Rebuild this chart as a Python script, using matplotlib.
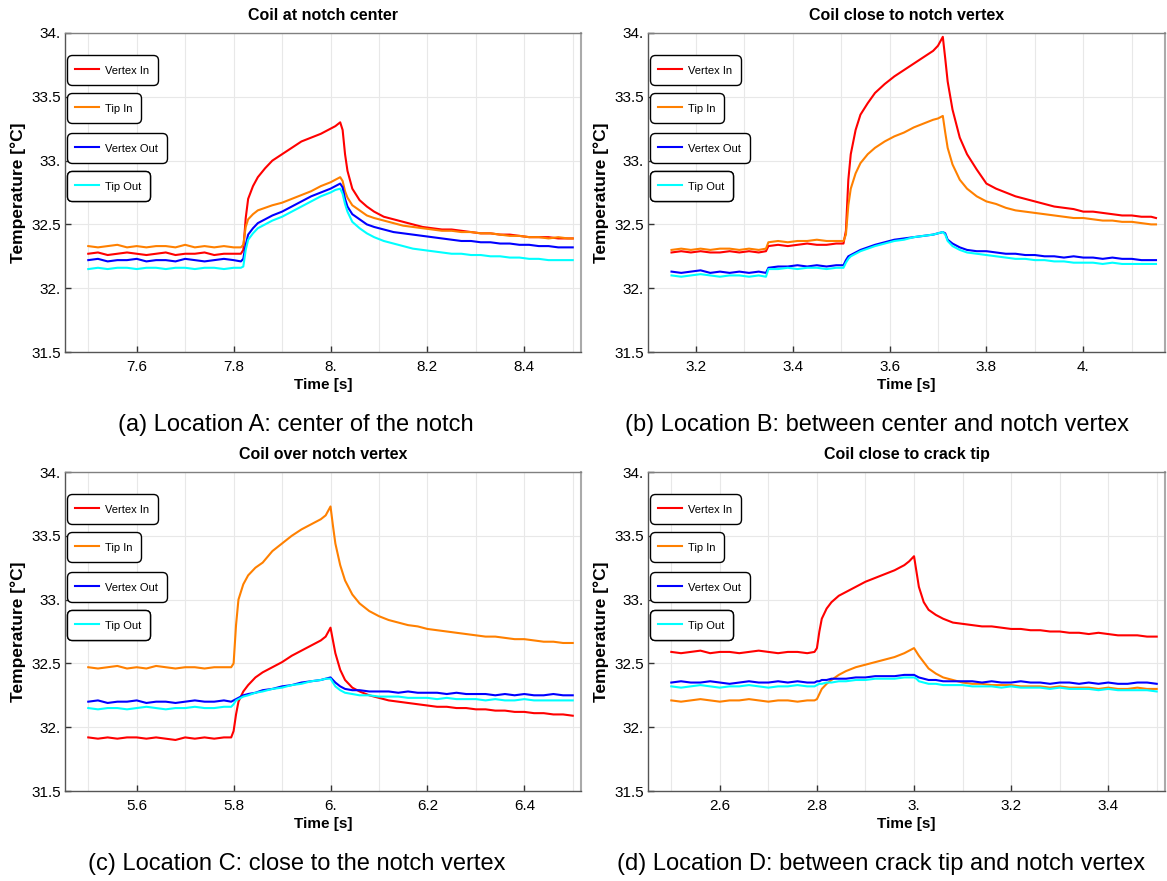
import matplotlib
matplotlib.use("Agg")
import matplotlib.pyplot as plt
from matplotlib.ticker import MultipleLocator, FuncFormatter

plt.rcParams['font.family'] = ['Liberation Sans', 'DejaVu Sans']

labels = ['Vertex In', 'Tip In', 'Vertex Out', 'Tip Out']
colors = ['#ff0000', '#ff8000', '#0000ff', '#00ffff']

titles = ['Coil at notch center', 'Coil close to notch vertex',
          'Coil over notch vertex', 'Coil close to crack tip']
captions = ['(a) Location A: center of the notch',
            '(b) Location B: between center and notch vertex',
            '(c) Location C: close to the notch vertex',
            '(d) Location D: between crack tip and notch vertex']

# ---- location A ----
t_a = [7.50, 7.52, 7.54, 7.56, 7.58, 7.60, 7.62, 7.64, 7.66, 7.68,
       7.70, 7.72, 7.74, 7.76, 7.78, 7.80,
       7.815, 7.82, 7.825, 7.83, 7.84, 7.85, 7.865, 7.88,
       7.90, 7.92, 7.94, 7.96, 7.98, 8.00,
       8.01, 8.02, 8.025, 8.03, 8.035, 8.045, 8.06, 8.075, 8.09,
       8.11, 8.13, 8.15, 8.17, 8.19, 8.21, 8.23, 8.25, 8.27, 8.29,
       8.31, 8.33, 8.35, 8.37, 8.39, 8.41, 8.43, 8.45, 8.47, 8.49,
       8.50]
a_vertex_in = [32.27, 32.28, 32.26, 32.27, 32.28, 32.27, 32.26, 32.27, 32.28, 32.26,
               32.27, 32.27, 32.28, 32.26, 32.27, 32.27,
               32.27, 32.30, 32.55, 32.70, 32.80, 32.87, 32.94, 33.00,
               33.05, 33.10, 33.15, 33.18, 33.21, 33.25,
               33.27, 33.30, 33.24, 33.05, 32.92, 32.78, 32.69, 32.64, 32.60,
               32.56, 32.54, 32.52, 32.50, 32.48, 32.47, 32.46, 32.46, 32.45, 32.44,
               32.43, 32.43, 32.42, 32.42, 32.41, 32.40, 32.40, 32.40, 32.39, 32.39,
               32.39]
a_tip_in = [32.33, 32.32, 32.33, 32.34, 32.32, 32.33, 32.32, 32.33, 32.33, 32.32,
            32.34, 32.32, 32.33, 32.32, 32.33, 32.32,
            32.32, 32.34, 32.48, 32.54, 32.58, 32.61, 32.63, 32.65,
            32.67, 32.70, 32.73, 32.76, 32.80, 32.83,
            32.85, 32.87, 32.84, 32.76, 32.71, 32.65, 32.61, 32.57, 32.55,
            32.53, 32.51, 32.49, 32.48, 32.47, 32.46, 32.45, 32.45, 32.44, 32.44,
            32.43, 32.43, 32.42, 32.41, 32.41, 32.40, 32.40, 32.39, 32.40, 32.39,
            32.39]
a_vertex_out = [32.22, 32.23, 32.21, 32.22, 32.22, 32.23, 32.21, 32.22, 32.22, 32.21,
                32.23, 32.22, 32.21, 32.22, 32.23, 32.22,
                32.21, 32.23, 32.34, 32.42, 32.47, 32.51, 32.54, 32.57,
                32.60, 32.64, 32.68, 32.72, 32.75, 32.78,
                32.80, 32.82, 32.79, 32.70, 32.64, 32.58, 32.54, 32.50, 32.48,
                32.46, 32.44, 32.43, 32.42, 32.41, 32.40, 32.39, 32.38, 32.37, 32.37,
                32.36, 32.36, 32.35, 32.35, 32.34, 32.34, 32.33, 32.33, 32.32, 32.32,
                32.32]
a_tip_out = [32.15, 32.16, 32.15, 32.16, 32.16, 32.15, 32.16, 32.16, 32.15, 32.16,
             32.16, 32.15, 32.16, 32.16, 32.15, 32.16,
             32.16, 32.17, 32.30, 32.38, 32.43, 32.47, 32.50, 32.53,
             32.56, 32.60, 32.64, 32.68, 32.72, 32.75,
             32.77, 32.78, 32.74, 32.66, 32.60, 32.52, 32.47, 32.43, 32.40,
             32.37, 32.35, 32.33, 32.31, 32.30, 32.29, 32.28, 32.27, 32.27, 32.26,
             32.26, 32.25, 32.25, 32.24, 32.24, 32.23, 32.23, 32.22, 32.22, 32.22,
             32.22]

# ---- location B ----
t_b = [3.15, 3.17, 3.19, 3.21, 3.23, 3.25, 3.27, 3.29, 3.31, 3.33,
       3.345, 3.35,
       3.37, 3.39, 3.41, 3.43, 3.45, 3.47, 3.49,
       3.505, 3.51, 3.515, 3.52, 3.53, 3.54, 3.555, 3.57,
       3.59, 3.61, 3.63, 3.65, 3.67, 3.69,
       3.70, 3.71, 3.715, 3.72, 3.73, 3.745, 3.76, 3.78,
       3.80, 3.82, 3.84, 3.86, 3.88, 3.90, 3.92, 3.94, 3.96,
       3.98, 4.00, 4.02, 4.04, 4.06, 4.08, 4.10, 4.12, 4.14,
       4.15]
b_vertex_in = [32.28, 32.29, 32.28, 32.29, 32.28, 32.28, 32.29, 32.28, 32.29, 32.28,
               32.29, 32.33,
               32.34, 32.33, 32.34, 32.35, 32.34, 32.34, 32.35,
               32.35, 32.45, 32.85, 33.05, 33.24, 33.36, 33.45, 33.53,
               33.60, 33.66, 33.71, 33.76, 33.81, 33.86,
               33.90, 33.97, 33.80, 33.62, 33.40, 33.18, 33.05, 32.93,
               32.82, 32.78, 32.75, 32.72, 32.70, 32.68, 32.66, 32.64, 32.63,
               32.62, 32.60, 32.60, 32.59, 32.58, 32.57, 32.57, 32.56, 32.56,
               32.55]
b_tip_in = [32.30, 32.31, 32.30, 32.31, 32.30, 32.31, 32.31, 32.30, 32.31, 32.30,
            32.31, 32.36,
            32.37, 32.36, 32.37, 32.37, 32.38, 32.37, 32.37,
            32.37, 32.42, 32.65, 32.78, 32.90, 32.98, 33.05, 33.10,
            33.15, 33.19, 33.22, 33.26, 33.29, 33.32,
            33.33, 33.35, 33.22, 33.10, 32.97, 32.85, 32.78, 32.72,
            32.68, 32.66, 32.63, 32.61, 32.60, 32.59, 32.58, 32.57, 32.56,
            32.55, 32.55, 32.54, 32.53, 32.53, 32.52, 32.52, 32.51, 32.50,
            32.50]
b_vertex_out = [32.13, 32.12, 32.13, 32.14, 32.12, 32.13, 32.12, 32.13, 32.12, 32.13,
                32.12, 32.16,
                32.17, 32.17, 32.18, 32.17, 32.18, 32.17, 32.18,
                32.18, 32.22, 32.25, 32.26, 32.28, 32.30, 32.32, 32.34,
                32.36, 32.38, 32.39, 32.40, 32.41, 32.42,
                32.43, 32.44, 32.43, 32.38, 32.35, 32.32, 32.30, 32.29,
                32.29, 32.28, 32.27, 32.27, 32.26, 32.26, 32.25, 32.25, 32.24,
                32.25, 32.24, 32.24, 32.23, 32.24, 32.23, 32.23, 32.22, 32.22,
                32.22]
b_tip_out = [32.10, 32.09, 32.10, 32.11, 32.10, 32.09, 32.10, 32.10, 32.09, 32.10,
             32.09, 32.15,
             32.15, 32.16, 32.15, 32.16, 32.16, 32.15, 32.16,
             32.16, 32.20, 32.23, 32.25, 32.27, 32.29, 32.31, 32.33,
             32.35, 32.37, 32.38, 32.40, 32.41, 32.42,
             32.43, 32.44, 32.42, 32.37, 32.33, 32.30, 32.28, 32.27,
             32.26, 32.25, 32.24, 32.23, 32.23, 32.22, 32.22, 32.21, 32.21,
             32.20, 32.20, 32.20, 32.19, 32.20, 32.19, 32.19, 32.19, 32.19,
             32.19]

# ---- location C ----
t_c = [5.50, 5.52, 5.54, 5.56, 5.58, 5.60, 5.62, 5.64, 5.66, 5.68,
       5.70, 5.72, 5.74, 5.76, 5.78,
       5.795, 5.80, 5.805, 5.81, 5.82, 5.83, 5.845, 5.86,
       5.88, 5.90, 5.92, 5.94, 5.96, 5.98,
       5.99, 6.00, 6.005, 6.01, 6.02, 6.03, 6.045, 6.06, 6.08, 6.10,
       6.12, 6.14, 6.16, 6.18, 6.20, 6.22, 6.24, 6.26, 6.28, 6.30,
       6.32, 6.34, 6.36, 6.38, 6.40, 6.42, 6.44, 6.46, 6.48,
       6.50]
c_vertex_in = [31.92, 31.91, 31.92, 31.91, 31.92, 31.92, 31.91, 31.92, 31.91, 31.90,
               31.92, 31.91, 31.92, 31.91, 31.92,
               31.92, 31.97, 32.10, 32.20, 32.28, 32.33, 32.39, 32.43,
               32.47, 32.51, 32.56, 32.60, 32.64, 32.68,
               32.71, 32.78, 32.68, 32.58, 32.45, 32.37, 32.31, 32.28, 32.25, 32.23,
               32.21, 32.20, 32.19, 32.18, 32.17, 32.16, 32.16, 32.15, 32.15, 32.14,
               32.14, 32.13, 32.13, 32.12, 32.12, 32.11, 32.11, 32.10, 32.10,
               32.09]
c_tip_in = [32.47, 32.46, 32.47, 32.48, 32.46, 32.47, 32.46, 32.48, 32.47, 32.46,
            32.47, 32.47, 32.46, 32.47, 32.47,
            32.47, 32.50, 32.80, 33.00, 33.12, 33.19, 33.25, 33.29,
            33.38, 33.44, 33.50, 33.55, 33.59, 33.63,
            33.66, 33.73, 33.58, 33.44, 33.27, 33.15, 33.04, 32.97, 32.91, 32.87,
            32.84, 32.82, 32.80, 32.79, 32.77, 32.76, 32.75, 32.74, 32.73, 32.72,
            32.71, 32.71, 32.70, 32.69, 32.69, 32.68, 32.67, 32.67, 32.66,
            32.66]
c_vertex_out = [32.20, 32.21, 32.19, 32.20, 32.20, 32.21, 32.19, 32.20, 32.20, 32.19,
                32.20, 32.21, 32.20, 32.20, 32.21,
                32.20, 32.21, 32.22, 32.23, 32.25, 32.26, 32.27, 32.29,
                32.30, 32.32, 32.33, 32.35, 32.36, 32.37,
                32.38, 32.39, 32.37, 32.35, 32.32, 32.30, 32.29, 32.29, 32.28, 32.28,
                32.28, 32.27, 32.28, 32.27, 32.27, 32.27, 32.26, 32.27, 32.26, 32.26,
                32.26, 32.25, 32.26, 32.25, 32.26, 32.25, 32.25, 32.26, 32.25,
                32.25]
c_tip_out = [32.15, 32.14, 32.15, 32.15, 32.14, 32.15, 32.16, 32.15, 32.14, 32.15,
             32.15, 32.16, 32.15, 32.15, 32.16,
             32.16, 32.18, 32.21, 32.22, 32.24, 32.25, 32.27, 32.28,
             32.30, 32.31, 32.33, 32.34, 32.36, 32.37,
             32.38, 32.38, 32.35, 32.32, 32.29, 32.27, 32.26, 32.25, 32.25, 32.24,
             32.24, 32.24, 32.23, 32.23, 32.23, 32.22, 32.23, 32.22, 32.22, 32.22,
             32.21, 32.22, 32.21, 32.21, 32.22, 32.21, 32.21, 32.21, 32.21,
             32.21]

# ---- location D ----
t_d = [2.50, 2.52, 2.54, 2.56, 2.58, 2.60, 2.62, 2.64, 2.66, 2.68,
       2.70, 2.72, 2.74, 2.76, 2.78,
       2.795, 2.80, 2.805, 2.81, 2.82, 2.83, 2.845, 2.86,
       2.88, 2.90, 2.92, 2.94, 2.96, 2.98,
       2.99, 3.00, 3.005, 3.01, 3.02, 3.03, 3.045, 3.06, 3.08, 3.10,
       3.12, 3.14, 3.16, 3.18, 3.20, 3.22, 3.24, 3.26, 3.28, 3.30,
       3.32, 3.34, 3.36, 3.38, 3.40, 3.42, 3.44, 3.46, 3.48,
       3.50]
d_vertex_in = [32.59, 32.58, 32.59, 32.60, 32.58, 32.59, 32.59, 32.58, 32.59, 32.60,
               32.59, 32.58, 32.59, 32.59, 32.58,
               32.59, 32.62, 32.75, 32.85, 32.93, 32.98, 33.03, 33.06,
               33.10, 33.14, 33.17, 33.20, 33.23, 33.27,
               33.30, 33.34, 33.22, 33.10, 32.98, 32.92, 32.88, 32.85, 32.82, 32.81,
               32.80, 32.79, 32.79, 32.78, 32.77, 32.77, 32.76, 32.76, 32.75, 32.75,
               32.74, 32.74, 32.73, 32.74, 32.73, 32.72, 32.72, 32.72, 32.71,
               32.71]
d_tip_in = [32.21, 32.20, 32.21, 32.22, 32.21, 32.20, 32.21, 32.21, 32.22, 32.21,
            32.20, 32.21, 32.21, 32.20, 32.21,
            32.21, 32.22, 32.26, 32.30, 32.34, 32.37, 32.41, 32.44,
            32.47, 32.49, 32.51, 32.53, 32.55, 32.58,
            32.60, 32.62, 32.59, 32.56, 32.51, 32.46, 32.42, 32.39, 32.37, 32.35,
            32.34, 32.34, 32.33, 32.33, 32.33, 32.32, 32.32, 32.32, 32.31, 32.32,
            32.31, 32.31, 32.31, 32.30, 32.31, 32.30, 32.30, 32.31, 32.30,
            32.30]
d_vertex_out = [32.35, 32.36, 32.35, 32.35, 32.36, 32.35, 32.34, 32.35, 32.36, 32.35,
                32.35, 32.36, 32.35, 32.36, 32.35,
                32.35, 32.36, 32.36, 32.37, 32.37, 32.38, 32.38, 32.38,
                32.39, 32.39, 32.40, 32.40, 32.40, 32.41,
                32.41, 32.41, 32.40, 32.39, 32.38, 32.37, 32.37, 32.36, 32.36, 32.36,
                32.36, 32.35, 32.36, 32.35, 32.35, 32.36, 32.35, 32.35, 32.34, 32.35,
                32.35, 32.34, 32.35, 32.34, 32.35, 32.34, 32.34, 32.35, 32.35,
                32.34]
d_tip_out = [32.32, 32.31, 32.32, 32.33, 32.32, 32.31, 32.32, 32.32, 32.33, 32.32,
             32.31, 32.32, 32.32, 32.33, 32.32,
             32.32, 32.33, 32.34, 32.34, 32.35, 32.35, 32.36, 32.36,
             32.37, 32.37, 32.38, 32.38, 32.38, 32.39,
             32.39, 32.39, 32.38, 32.36, 32.35, 32.34, 32.34, 32.33, 32.33, 32.33,
             32.32, 32.32, 32.32, 32.31, 32.32, 32.31, 32.31, 32.31, 32.30, 32.31,
             32.30, 32.30, 32.30, 32.29, 32.30, 32.29, 32.29, 32.29, 32.29,
             32.28]

panels = [
    (t_a, [a_vertex_in, a_tip_in, a_vertex_out, a_tip_out], (7.452, 8.517)),
    (t_b, [b_vertex_in, b_tip_in, b_vertex_out, b_tip_out], (3.1015, 4.1686)),
    (t_c, [c_vertex_in, c_tip_in, c_vertex_out, c_tip_out], (5.452, 6.517)),
    (t_d, [d_vertex_in, d_tip_in, d_vertex_out, d_tip_out], (2.452, 3.517)),
]

W, H = 1167, 881
# axes boxes in pixels: left, top, right, bottom
boxes = [(65, 33, 581, 352), (648, 33, 1165, 352),
         (65, 472, 581, 791), (648, 472, 1165, 791)]
caption_pos = [(296, 425), (877, 425), (297, 864), (881, 864)]


def tick_fmt(v, pos):
    s = f"{v:.1f}"
    if s.endswith('.0'):
        s = s[:-1]
    return s


fig = plt.figure(figsize=(W / 100, H / 100), dpi=100)

for k, (t, series, xlim) in enumerate(panels):
    l, tp, r, b = boxes[k]
    aw, ah = r - l, b - tp
    ax = fig.add_axes([l / W, 1 - b / H, aw / W, ah / H])

    lines = []
    for vals, c in zip(series, colors):
        ln, = ax.plot(t, vals, color=c, lw=1.5, solid_joinstyle='round')
        lines.append(ln)

    ax.set_xlim(*xlim)
    ax.set_ylim(31.5, 34.0)
    ax.xaxis.set_major_locator(MultipleLocator(0.2))
    ax.xaxis.set_minor_locator(MultipleLocator(0.1))
    ax.yaxis.set_major_locator(MultipleLocator(0.5))
    ax.xaxis.set_major_formatter(FuncFormatter(tick_fmt))
    ax.yaxis.set_major_formatter(FuncFormatter(tick_fmt))
    ax.grid(axis='x', which='both', color='#e8e8e8', lw=0.8)
    ax.grid(axis='y', which='major', color='#e8e8e8', lw=0.8)
    ax.set_axisbelow(True)
    ax.tick_params(which='major', direction='in', length=4, width=1,
                   color='#333333', labelsize=11)
    ax.tick_params(axis='x', which='major', pad=6)
    ax.tick_params(axis='y', which='major', pad=3)
    ax.tick_params(which='minor', length=0)

    for side in ['left', 'bottom']:
        ax.spines[side].set_color('#555555')
        ax.spines[side].set_linewidth(1.0)
    ax.spines['top'].set_color('#808080')
    ax.spines['top'].set_linewidth(1.0)
    ax.spines['right'].set_color('#aaaaaa')
    ax.spines['right'].set_linewidth(1.5)

    ax.text(0.5, 1 + 17 / ah, titles[k], transform=ax.transAxes,
            ha='center', va='center', fontsize=11.5, fontweight='bold')
    ax.set_xlabel('Time [s]', fontsize=11, fontweight='bold', va='center')
    ax.xaxis.set_label_coords(0.5, -33 / ah)
    ax.set_ylabel('Temperature [°C]', fontsize=12.5, fontweight='bold', va='center')
    ax.yaxis.set_label_coords(-47 / aw, 0.5)

    # one framed key per series, stacked down the left side
    for i, (ln, lab) in enumerate(zip(lines, labels)):
        top_px = [22, 60, 100, 138][i]
        leg = ax.legend([ln], [lab], loc='upper left',
                        bbox_to_anchor=(2 / aw, 1 - top_px / ah),
                        borderaxespad=0, fontsize=8, frameon=True,
                        fancybox=True, framealpha=1, edgecolor='black',
                        handlelength=2.1, handletextpad=0.6,
                        borderpad=0.75, handleheight=1.5)
        fr = leg.get_frame()
        fr.set_linewidth(1.0)
        fr.set_boxstyle('round', pad=0, rounding_size=0.45)
        ax.add_artist(leg)

    cx, cy = caption_pos[k]
    fig.text(cx / W, 1 - cy / H, captions[k], ha='center', va='center',
             fontsize=17)

fig.savefig('out.png', dpi=100)
